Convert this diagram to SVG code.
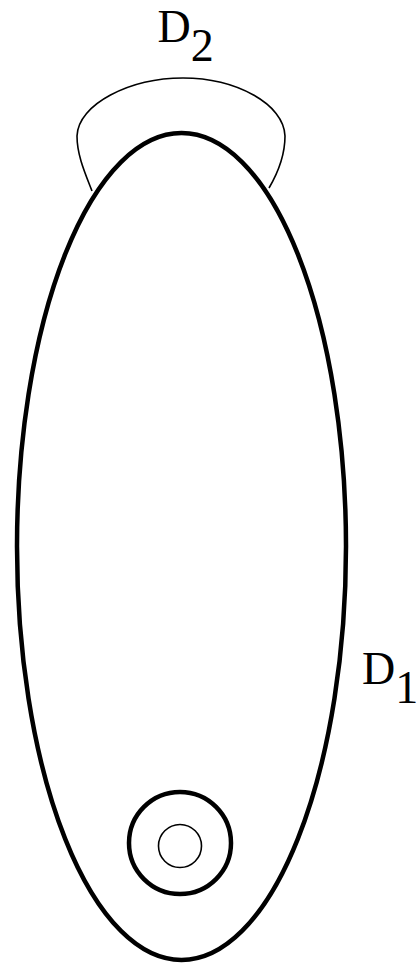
<svg xmlns="http://www.w3.org/2000/svg" width="420" height="966" viewBox="0 0 420 966">
<style>
.thick{fill:none;stroke:#000;stroke-width:4.5}
.thin{fill:none;stroke:#000;stroke-width:1.6}
.lbl{font-family:"Liberation Serif","Times New Roman",serif;font-size:46px;fill:#000}
</style>
<rect width="420" height="966" fill="#fff"/>
<g id="D2">
<path class="thin" d="M 92,191 C 85,173 77,155 77,136 C 78,104 130,78 183,78 C 236,78 284,104 285,136 C 285,155 279,171 269,188"/>
<text class="lbl" x="157.5" y="41.5">D<tspan dy="19">2</tspan></text>
</g>
<g id="D1">
<ellipse class="thick" cx="181.5" cy="546.5" rx="164.5" ry="413.5"/>
<text class="lbl" x="362" y="684">D<tspan dy="19">1</tspan></text>
</g>
<g id="ring">
<circle class="thick" cx="180" cy="843" r="51"/>
<circle class="thin" cx="180" cy="846" r="21.5"/>
</g>
</svg>
